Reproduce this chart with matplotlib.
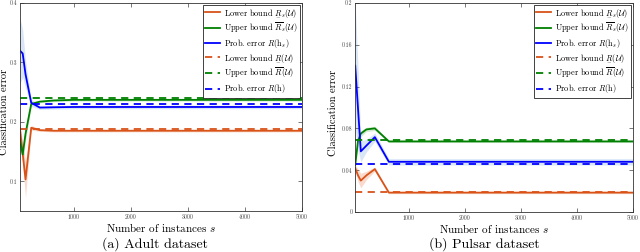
import numpy as np
import matplotlib
matplotlib.use("Agg")
import matplotlib.pyplot as plt

plt.rcParams["font.family"] = "serif"
plt.rcParams["font.serif"] = ["cmr10", "DejaVu Serif"]
plt.rcParams["mathtext.fontset"] = "cm"
plt.rcParams["axes.formatter.use_mathtext"] = True

# instances s
s = [50, 100, 150, 250, 400, 650, 1000, 1500, 2000, 2500, 3000, 3500, 4000, 4500, 5000]

# Adult dataset
adult_low = [0.19, 0.147, 0.103, 0.19, 0.186, 0.185, 0.185, 0.185, 0.185, 0.185, 0.185, 0.185, 0.185, 0.185, 0.185]
adult_low_sd = [0.004, 0.02, 0.03, 0.004, 0.002, 0.002, 0.002, 0.002, 0.002, 0.002, 0.002, 0.002, 0.002, 0.002, 0.002]
adult_up = [0.17, 0.145, 0.18, 0.23, 0.234, 0.236, 0.237, 0.237, 0.237, 0.237, 0.237, 0.237, 0.237, 0.237, 0.237]
adult_up_sd = [0.01, 0.015, 0.012, 0.004, 0.002, 0.002, 0.002, 0.002, 0.002, 0.002, 0.002, 0.002, 0.002, 0.002, 0.002]
adult_err = [0.32, 0.315, 0.28, 0.232, 0.224, 0.2245, 0.225, 0.225, 0.225, 0.225, 0.225, 0.225, 0.225, 0.225, 0.225]
adult_err_sd = [0.055, 0.04, 0.022, 0.006, 0.003, 0.003, 0.003, 0.003, 0.003, 0.003, 0.003, 0.003, 0.003, 0.003, 0.003]
adult_lim = [0.188, 0.24, 0.23]  # lower, upper, prob. error

# Pulsar dataset
pulsar_low = [0.042, 0.035, 0.030, 0.035, 0.041, 0.0185, 0.0185, 0.0185, 0.0185, 0.0185, 0.0185, 0.0185, 0.0185, 0.0185, 0.0185]
pulsar_low_sd = [0.003, 0.006, 0.007, 0.004, 0.002, 0.001, 0.001, 0.001, 0.001, 0.001, 0.001, 0.001, 0.001, 0.001, 0.001]
pulsar_up = [0.045, 0.068, 0.075, 0.079, 0.080, 0.0675, 0.0675, 0.0675, 0.0675, 0.0675, 0.0675, 0.0675, 0.0675, 0.0675, 0.0675]
pulsar_up_sd = [0.003, 0.004, 0.003, 0.002, 0.002, 0.001, 0.001, 0.001, 0.001, 0.001, 0.001, 0.001, 0.001, 0.001, 0.001]
pulsar_err = [0.14, 0.099, 0.058, 0.0635, 0.0716, 0.048, 0.048, 0.048, 0.048, 0.048, 0.048, 0.048, 0.048, 0.048, 0.048]
pulsar_err_sd = [0.06, 0.04, 0.01, 0.006, 0.004, 0.003, 0.003, 0.003, 0.003, 0.003, 0.003, 0.003, 0.003, 0.003, 0.003]
pulsar_lim = [0.019, 0.069, 0.046]

orange = "#D95319"
green = "#008000"
blue = "#0000FF"
labels = [r"Lower bound $\underset{-}{R}_s(\mathcal{U})$",
          r"Upper bound $\overline{R}_s(\mathcal{U})$",
          r"Prob. error $R(\mathrm{h}_s)$",
          r"Lower bound $\underset{-}{R}(\mathcal{U})$",
          r"Upper bound $\overline{R}(\mathcal{U})$",
          r"Prob. error $R(\mathrm{h})$"]


def panel(ax, low, low_sd, up, up_sd, err, err_sd, lim, ylim, yticks, yticklabels, ylab_x):
    x = np.array(s)
    handles = []
    for m, sd, c, fc in [(low, low_sd, orange, "#f7d3c2"),
                         (up, up_sd, green, "#c6e5c6"),
                         (err, err_sd, blue, "#cfe0f7")]:
        m = np.array(m)
        sd = np.array(sd)
        ax.fill_between(x, m - sd, m + sd, color=fc, lw=0, alpha=0.8)
    for m, c in [(low, orange), (up, green), (err, blue)]:
        h, = ax.plot(x, m, color=c, lw=1.3)
        handles.append(h)
    for v, c in zip(lim, [orange, green, blue]):
        h, = ax.plot([s[0], s[-1]], [v, v], color=c, lw=1.3, ls=(0, (4, 3)))
        handles.append(h)
    ax.set_xlim(s[0], s[-1])
    ax.set_ylim(*ylim)
    ax.set_xticks([1000, 2000, 3000, 4000, 5000])
    ax.set_xticklabels(["1000", "2000", "3000", "4000", "5000"])
    ax.set_yticks(yticks)
    ax.set_yticklabels(yticklabels)
    ax.tick_params(direction="in", top=True, right=True, labelsize=4.2, length=3,
                   width=0.5, colors="#444444", pad=2)
    for sp in ax.spines.values():
        sp.set_linewidth(0.6)
        sp.set_color("#333333")
    ax.set_xlabel(r"Number of instances $s$", fontsize=8, labelpad=1)
    ax.set_ylabel("Classification error", fontsize=7.5)
    ax.yaxis.set_label_coords(ylab_x, 0.475)
    leg = ax.legend(handles, labels, loc="upper right", fontsize=6, frameon=True,
                    fancybox=False, edgecolor="#222222", framealpha=1,
                    handlelength=1.8, borderaxespad=0.2, labelspacing=0.25,
                    borderpad=0.3, handletextpad=0.5)
    leg.get_frame().set_linewidth(0.6)


fig = plt.figure(figsize=(6.4, 2.52), dpi=100)
ax1 = fig.add_axes([0.031, 0.163, 0.441, 0.825])
ax2 = fig.add_axes([0.555, 0.159, 0.434, 0.829])

panel(ax1, adult_low, adult_low_sd, adult_up, adult_up_sd, adult_err, adult_err_sd,
      adult_lim, (0.05, 0.4), [0.1, 0.2, 0.3, 0.4], ["0.1", "0.2", "0.3", "0.4"], -0.038)
panel(ax2, pulsar_low, pulsar_low_sd, pulsar_up, pulsar_up_sd, pulsar_err, pulsar_err_sd,
      pulsar_lim, (0, 0.2), [0, 0.04, 0.08, 0.12, 0.16, 0.2],
      ["0", "0.04", "0.08", "0.12", "0.16", "0.2"], -0.062)

fig.text(0.242, 0.03, "(a) Adult dataset", ha="center", va="center", fontsize=10)
fig.text(0.757, 0.03, "(b) Pulsar dataset", ha="center", va="center", fontsize=10)

fig.savefig("out.png", dpi=100)
